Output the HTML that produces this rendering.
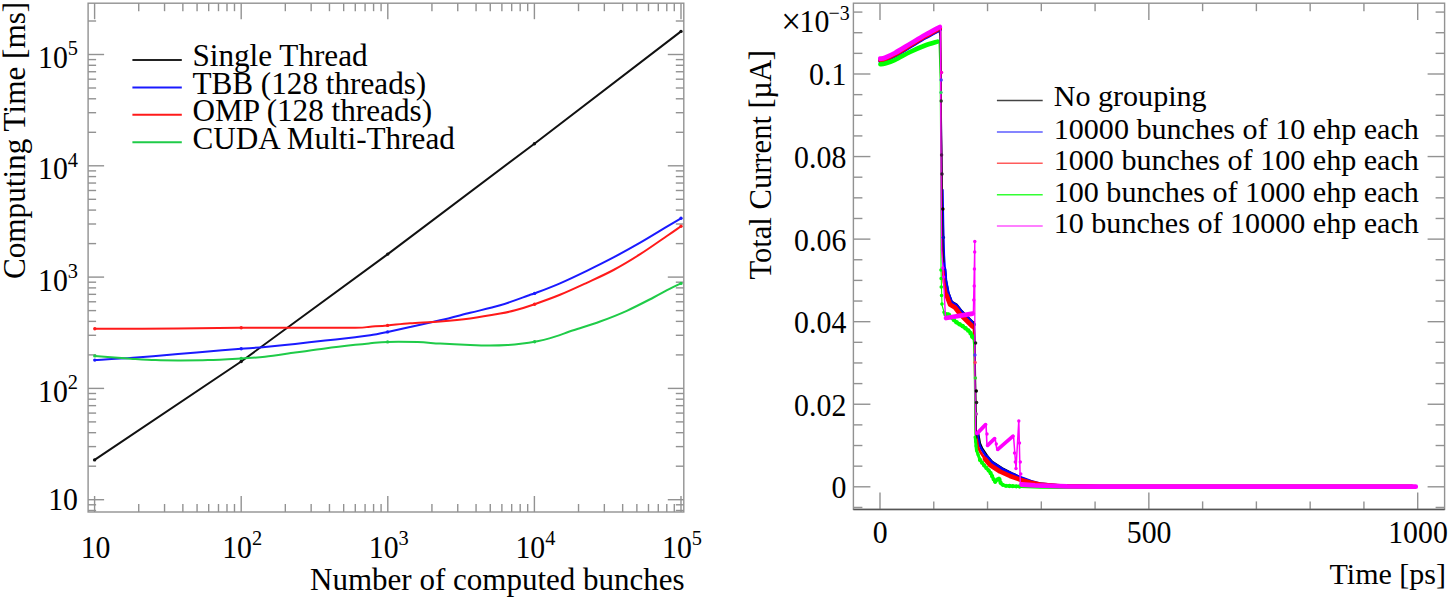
<!DOCTYPE html>
<html lang="en">
<head>
<meta charset="utf-8">
<title>Computing time and total current plots</title>
<style>
html,body{margin:0;padding:0;background:#fff;}
body{width:1450px;height:599px;overflow:hidden;}
svg{display:block;}
text{font-family:"Liberation Serif", "DejaVu Serif", serif;fill:#000;}
</style>
</head>
<body>
<svg width="1450" height="599" viewBox="0 0 1450 599">
<rect x="0" y="0" width="1450" height="599" fill="#fff"/>
<g id="left-plot">
<line x1="94.60" y1="512.00" x2="94.60" y2="496.00" stroke="#929292" stroke-width="1.4" />
<line x1="94.60" y1="3.20" x2="94.60" y2="19.20" stroke="#929292" stroke-width="1.4" />
<line x1="138.73" y1="512.00" x2="138.73" y2="504.00" stroke="#929292" stroke-width="1.4" />
<line x1="138.73" y1="3.20" x2="138.73" y2="11.20" stroke="#929292" stroke-width="1.4" />
<line x1="164.55" y1="512.00" x2="164.55" y2="504.00" stroke="#929292" stroke-width="1.4" />
<line x1="164.55" y1="3.20" x2="164.55" y2="11.20" stroke="#929292" stroke-width="1.4" />
<line x1="182.86" y1="512.00" x2="182.86" y2="504.00" stroke="#929292" stroke-width="1.4" />
<line x1="182.86" y1="3.20" x2="182.86" y2="11.20" stroke="#929292" stroke-width="1.4" />
<line x1="197.07" y1="512.00" x2="197.07" y2="504.00" stroke="#929292" stroke-width="1.4" />
<line x1="197.07" y1="3.20" x2="197.07" y2="11.20" stroke="#929292" stroke-width="1.4" />
<line x1="208.68" y1="512.00" x2="208.68" y2="504.00" stroke="#929292" stroke-width="1.4" />
<line x1="208.68" y1="3.20" x2="208.68" y2="11.20" stroke="#929292" stroke-width="1.4" />
<line x1="218.49" y1="512.00" x2="218.49" y2="504.00" stroke="#929292" stroke-width="1.4" />
<line x1="218.49" y1="3.20" x2="218.49" y2="11.20" stroke="#929292" stroke-width="1.4" />
<line x1="226.99" y1="512.00" x2="226.99" y2="504.00" stroke="#929292" stroke-width="1.4" />
<line x1="226.99" y1="3.20" x2="226.99" y2="11.20" stroke="#929292" stroke-width="1.4" />
<line x1="234.49" y1="512.00" x2="234.49" y2="504.00" stroke="#929292" stroke-width="1.4" />
<line x1="234.49" y1="3.20" x2="234.49" y2="11.20" stroke="#929292" stroke-width="1.4" />
<line x1="241.20" y1="512.00" x2="241.20" y2="496.00" stroke="#929292" stroke-width="1.4" />
<line x1="241.20" y1="3.20" x2="241.20" y2="19.20" stroke="#929292" stroke-width="1.4" />
<line x1="285.33" y1="512.00" x2="285.33" y2="504.00" stroke="#929292" stroke-width="1.4" />
<line x1="285.33" y1="3.20" x2="285.33" y2="11.20" stroke="#929292" stroke-width="1.4" />
<line x1="311.15" y1="512.00" x2="311.15" y2="504.00" stroke="#929292" stroke-width="1.4" />
<line x1="311.15" y1="3.20" x2="311.15" y2="11.20" stroke="#929292" stroke-width="1.4" />
<line x1="329.46" y1="512.00" x2="329.46" y2="504.00" stroke="#929292" stroke-width="1.4" />
<line x1="329.46" y1="3.20" x2="329.46" y2="11.20" stroke="#929292" stroke-width="1.4" />
<line x1="343.67" y1="512.00" x2="343.67" y2="504.00" stroke="#929292" stroke-width="1.4" />
<line x1="343.67" y1="3.20" x2="343.67" y2="11.20" stroke="#929292" stroke-width="1.4" />
<line x1="355.28" y1="512.00" x2="355.28" y2="504.00" stroke="#929292" stroke-width="1.4" />
<line x1="355.28" y1="3.20" x2="355.28" y2="11.20" stroke="#929292" stroke-width="1.4" />
<line x1="365.09" y1="512.00" x2="365.09" y2="504.00" stroke="#929292" stroke-width="1.4" />
<line x1="365.09" y1="3.20" x2="365.09" y2="11.20" stroke="#929292" stroke-width="1.4" />
<line x1="373.59" y1="512.00" x2="373.59" y2="504.00" stroke="#929292" stroke-width="1.4" />
<line x1="373.59" y1="3.20" x2="373.59" y2="11.20" stroke="#929292" stroke-width="1.4" />
<line x1="381.09" y1="512.00" x2="381.09" y2="504.00" stroke="#929292" stroke-width="1.4" />
<line x1="381.09" y1="3.20" x2="381.09" y2="11.20" stroke="#929292" stroke-width="1.4" />
<line x1="387.80" y1="512.00" x2="387.80" y2="496.00" stroke="#929292" stroke-width="1.4" />
<line x1="387.80" y1="3.20" x2="387.80" y2="19.20" stroke="#929292" stroke-width="1.4" />
<line x1="431.93" y1="512.00" x2="431.93" y2="504.00" stroke="#929292" stroke-width="1.4" />
<line x1="431.93" y1="3.20" x2="431.93" y2="11.20" stroke="#929292" stroke-width="1.4" />
<line x1="457.75" y1="512.00" x2="457.75" y2="504.00" stroke="#929292" stroke-width="1.4" />
<line x1="457.75" y1="3.20" x2="457.75" y2="11.20" stroke="#929292" stroke-width="1.4" />
<line x1="476.06" y1="512.00" x2="476.06" y2="504.00" stroke="#929292" stroke-width="1.4" />
<line x1="476.06" y1="3.20" x2="476.06" y2="11.20" stroke="#929292" stroke-width="1.4" />
<line x1="490.27" y1="512.00" x2="490.27" y2="504.00" stroke="#929292" stroke-width="1.4" />
<line x1="490.27" y1="3.20" x2="490.27" y2="11.20" stroke="#929292" stroke-width="1.4" />
<line x1="501.88" y1="512.00" x2="501.88" y2="504.00" stroke="#929292" stroke-width="1.4" />
<line x1="501.88" y1="3.20" x2="501.88" y2="11.20" stroke="#929292" stroke-width="1.4" />
<line x1="511.69" y1="512.00" x2="511.69" y2="504.00" stroke="#929292" stroke-width="1.4" />
<line x1="511.69" y1="3.20" x2="511.69" y2="11.20" stroke="#929292" stroke-width="1.4" />
<line x1="520.19" y1="512.00" x2="520.19" y2="504.00" stroke="#929292" stroke-width="1.4" />
<line x1="520.19" y1="3.20" x2="520.19" y2="11.20" stroke="#929292" stroke-width="1.4" />
<line x1="527.69" y1="512.00" x2="527.69" y2="504.00" stroke="#929292" stroke-width="1.4" />
<line x1="527.69" y1="3.20" x2="527.69" y2="11.20" stroke="#929292" stroke-width="1.4" />
<line x1="534.40" y1="512.00" x2="534.40" y2="496.00" stroke="#929292" stroke-width="1.4" />
<line x1="534.40" y1="3.20" x2="534.40" y2="19.20" stroke="#929292" stroke-width="1.4" />
<line x1="578.53" y1="512.00" x2="578.53" y2="504.00" stroke="#929292" stroke-width="1.4" />
<line x1="578.53" y1="3.20" x2="578.53" y2="11.20" stroke="#929292" stroke-width="1.4" />
<line x1="604.35" y1="512.00" x2="604.35" y2="504.00" stroke="#929292" stroke-width="1.4" />
<line x1="604.35" y1="3.20" x2="604.35" y2="11.20" stroke="#929292" stroke-width="1.4" />
<line x1="622.66" y1="512.00" x2="622.66" y2="504.00" stroke="#929292" stroke-width="1.4" />
<line x1="622.66" y1="3.20" x2="622.66" y2="11.20" stroke="#929292" stroke-width="1.4" />
<line x1="636.87" y1="512.00" x2="636.87" y2="504.00" stroke="#929292" stroke-width="1.4" />
<line x1="636.87" y1="3.20" x2="636.87" y2="11.20" stroke="#929292" stroke-width="1.4" />
<line x1="648.48" y1="512.00" x2="648.48" y2="504.00" stroke="#929292" stroke-width="1.4" />
<line x1="648.48" y1="3.20" x2="648.48" y2="11.20" stroke="#929292" stroke-width="1.4" />
<line x1="658.29" y1="512.00" x2="658.29" y2="504.00" stroke="#929292" stroke-width="1.4" />
<line x1="658.29" y1="3.20" x2="658.29" y2="11.20" stroke="#929292" stroke-width="1.4" />
<line x1="666.79" y1="512.00" x2="666.79" y2="504.00" stroke="#929292" stroke-width="1.4" />
<line x1="666.79" y1="3.20" x2="666.79" y2="11.20" stroke="#929292" stroke-width="1.4" />
<line x1="674.29" y1="512.00" x2="674.29" y2="504.00" stroke="#929292" stroke-width="1.4" />
<line x1="674.29" y1="3.20" x2="674.29" y2="11.20" stroke="#929292" stroke-width="1.4" />
<line x1="681.00" y1="512.00" x2="681.00" y2="496.00" stroke="#929292" stroke-width="1.4" />
<line x1="681.00" y1="3.20" x2="681.00" y2="19.20" stroke="#929292" stroke-width="1.4" />
<line x1="88.10" y1="510.49" x2="96.10" y2="510.49" stroke="#929292" stroke-width="1.4" />
<line x1="683.80" y1="510.49" x2="675.80" y2="510.49" stroke="#929292" stroke-width="1.4" />
<line x1="88.10" y1="504.79" x2="96.10" y2="504.79" stroke="#929292" stroke-width="1.4" />
<line x1="683.80" y1="504.79" x2="675.80" y2="504.79" stroke="#929292" stroke-width="1.4" />
<line x1="88.10" y1="499.70" x2="104.10" y2="499.70" stroke="#929292" stroke-width="1.4" />
<line x1="683.80" y1="499.70" x2="667.80" y2="499.70" stroke="#929292" stroke-width="1.4" />
<line x1="88.10" y1="466.20" x2="96.10" y2="466.20" stroke="#929292" stroke-width="1.4" />
<line x1="683.80" y1="466.20" x2="675.80" y2="466.20" stroke="#929292" stroke-width="1.4" />
<line x1="88.10" y1="446.60" x2="96.10" y2="446.60" stroke="#929292" stroke-width="1.4" />
<line x1="683.80" y1="446.60" x2="675.80" y2="446.60" stroke="#929292" stroke-width="1.4" />
<line x1="88.10" y1="432.69" x2="96.10" y2="432.69" stroke="#929292" stroke-width="1.4" />
<line x1="683.80" y1="432.69" x2="675.80" y2="432.69" stroke="#929292" stroke-width="1.4" />
<line x1="88.10" y1="421.90" x2="96.10" y2="421.90" stroke="#929292" stroke-width="1.4" />
<line x1="683.80" y1="421.90" x2="675.80" y2="421.90" stroke="#929292" stroke-width="1.4" />
<line x1="88.10" y1="413.09" x2="96.10" y2="413.09" stroke="#929292" stroke-width="1.4" />
<line x1="683.80" y1="413.09" x2="675.80" y2="413.09" stroke="#929292" stroke-width="1.4" />
<line x1="88.10" y1="405.64" x2="96.10" y2="405.64" stroke="#929292" stroke-width="1.4" />
<line x1="683.80" y1="405.64" x2="675.80" y2="405.64" stroke="#929292" stroke-width="1.4" />
<line x1="88.10" y1="399.19" x2="96.10" y2="399.19" stroke="#929292" stroke-width="1.4" />
<line x1="683.80" y1="399.19" x2="675.80" y2="399.19" stroke="#929292" stroke-width="1.4" />
<line x1="88.10" y1="393.49" x2="96.10" y2="393.49" stroke="#929292" stroke-width="1.4" />
<line x1="683.80" y1="393.49" x2="675.80" y2="393.49" stroke="#929292" stroke-width="1.4" />
<line x1="88.10" y1="388.40" x2="104.10" y2="388.40" stroke="#929292" stroke-width="1.4" />
<line x1="683.80" y1="388.40" x2="667.80" y2="388.40" stroke="#929292" stroke-width="1.4" />
<line x1="88.10" y1="354.90" x2="96.10" y2="354.90" stroke="#929292" stroke-width="1.4" />
<line x1="683.80" y1="354.90" x2="675.80" y2="354.90" stroke="#929292" stroke-width="1.4" />
<line x1="88.10" y1="335.30" x2="96.10" y2="335.30" stroke="#929292" stroke-width="1.4" />
<line x1="683.80" y1="335.30" x2="675.80" y2="335.30" stroke="#929292" stroke-width="1.4" />
<line x1="88.10" y1="321.39" x2="96.10" y2="321.39" stroke="#929292" stroke-width="1.4" />
<line x1="683.80" y1="321.39" x2="675.80" y2="321.39" stroke="#929292" stroke-width="1.4" />
<line x1="88.10" y1="310.60" x2="96.10" y2="310.60" stroke="#929292" stroke-width="1.4" />
<line x1="683.80" y1="310.60" x2="675.80" y2="310.60" stroke="#929292" stroke-width="1.4" />
<line x1="88.10" y1="301.79" x2="96.10" y2="301.79" stroke="#929292" stroke-width="1.4" />
<line x1="683.80" y1="301.79" x2="675.80" y2="301.79" stroke="#929292" stroke-width="1.4" />
<line x1="88.10" y1="294.34" x2="96.10" y2="294.34" stroke="#929292" stroke-width="1.4" />
<line x1="683.80" y1="294.34" x2="675.80" y2="294.34" stroke="#929292" stroke-width="1.4" />
<line x1="88.10" y1="287.89" x2="96.10" y2="287.89" stroke="#929292" stroke-width="1.4" />
<line x1="683.80" y1="287.89" x2="675.80" y2="287.89" stroke="#929292" stroke-width="1.4" />
<line x1="88.10" y1="282.19" x2="96.10" y2="282.19" stroke="#929292" stroke-width="1.4" />
<line x1="683.80" y1="282.19" x2="675.80" y2="282.19" stroke="#929292" stroke-width="1.4" />
<line x1="88.10" y1="277.10" x2="104.10" y2="277.10" stroke="#929292" stroke-width="1.4" />
<line x1="683.80" y1="277.10" x2="667.80" y2="277.10" stroke="#929292" stroke-width="1.4" />
<line x1="88.10" y1="243.60" x2="96.10" y2="243.60" stroke="#929292" stroke-width="1.4" />
<line x1="683.80" y1="243.60" x2="675.80" y2="243.60" stroke="#929292" stroke-width="1.4" />
<line x1="88.10" y1="224.00" x2="96.10" y2="224.00" stroke="#929292" stroke-width="1.4" />
<line x1="683.80" y1="224.00" x2="675.80" y2="224.00" stroke="#929292" stroke-width="1.4" />
<line x1="88.10" y1="210.09" x2="96.10" y2="210.09" stroke="#929292" stroke-width="1.4" />
<line x1="683.80" y1="210.09" x2="675.80" y2="210.09" stroke="#929292" stroke-width="1.4" />
<line x1="88.10" y1="199.30" x2="96.10" y2="199.30" stroke="#929292" stroke-width="1.4" />
<line x1="683.80" y1="199.30" x2="675.80" y2="199.30" stroke="#929292" stroke-width="1.4" />
<line x1="88.10" y1="190.49" x2="96.10" y2="190.49" stroke="#929292" stroke-width="1.4" />
<line x1="683.80" y1="190.49" x2="675.80" y2="190.49" stroke="#929292" stroke-width="1.4" />
<line x1="88.10" y1="183.04" x2="96.10" y2="183.04" stroke="#929292" stroke-width="1.4" />
<line x1="683.80" y1="183.04" x2="675.80" y2="183.04" stroke="#929292" stroke-width="1.4" />
<line x1="88.10" y1="176.59" x2="96.10" y2="176.59" stroke="#929292" stroke-width="1.4" />
<line x1="683.80" y1="176.59" x2="675.80" y2="176.59" stroke="#929292" stroke-width="1.4" />
<line x1="88.10" y1="170.89" x2="96.10" y2="170.89" stroke="#929292" stroke-width="1.4" />
<line x1="683.80" y1="170.89" x2="675.80" y2="170.89" stroke="#929292" stroke-width="1.4" />
<line x1="88.10" y1="165.80" x2="104.10" y2="165.80" stroke="#929292" stroke-width="1.4" />
<line x1="683.80" y1="165.80" x2="667.80" y2="165.80" stroke="#929292" stroke-width="1.4" />
<line x1="88.10" y1="132.30" x2="96.10" y2="132.30" stroke="#929292" stroke-width="1.4" />
<line x1="683.80" y1="132.30" x2="675.80" y2="132.30" stroke="#929292" stroke-width="1.4" />
<line x1="88.10" y1="112.70" x2="96.10" y2="112.70" stroke="#929292" stroke-width="1.4" />
<line x1="683.80" y1="112.70" x2="675.80" y2="112.70" stroke="#929292" stroke-width="1.4" />
<line x1="88.10" y1="98.79" x2="96.10" y2="98.79" stroke="#929292" stroke-width="1.4" />
<line x1="683.80" y1="98.79" x2="675.80" y2="98.79" stroke="#929292" stroke-width="1.4" />
<line x1="88.10" y1="88.00" x2="96.10" y2="88.00" stroke="#929292" stroke-width="1.4" />
<line x1="683.80" y1="88.00" x2="675.80" y2="88.00" stroke="#929292" stroke-width="1.4" />
<line x1="88.10" y1="79.19" x2="96.10" y2="79.19" stroke="#929292" stroke-width="1.4" />
<line x1="683.80" y1="79.19" x2="675.80" y2="79.19" stroke="#929292" stroke-width="1.4" />
<line x1="88.10" y1="71.74" x2="96.10" y2="71.74" stroke="#929292" stroke-width="1.4" />
<line x1="683.80" y1="71.74" x2="675.80" y2="71.74" stroke="#929292" stroke-width="1.4" />
<line x1="88.10" y1="65.29" x2="96.10" y2="65.29" stroke="#929292" stroke-width="1.4" />
<line x1="683.80" y1="65.29" x2="675.80" y2="65.29" stroke="#929292" stroke-width="1.4" />
<line x1="88.10" y1="59.59" x2="96.10" y2="59.59" stroke="#929292" stroke-width="1.4" />
<line x1="683.80" y1="59.59" x2="675.80" y2="59.59" stroke="#929292" stroke-width="1.4" />
<line x1="88.10" y1="54.50" x2="104.10" y2="54.50" stroke="#929292" stroke-width="1.4" />
<line x1="683.80" y1="54.50" x2="667.80" y2="54.50" stroke="#929292" stroke-width="1.4" />
<line x1="88.10" y1="21.00" x2="96.10" y2="21.00" stroke="#929292" stroke-width="1.4" />
<line x1="683.80" y1="21.00" x2="675.80" y2="21.00" stroke="#929292" stroke-width="1.4" />
<rect x="88.1" y="3.2" width="595.70" height="508.80" fill="none" stroke="#929292" stroke-width="1.4"/>
<path d="M94.60,459.90 L241.20,361.50 L387.80,254.10 L534.40,143.70 L681.00,31.40" fill="none" stroke="#111" stroke-width="2.0" stroke-linejoin="round" stroke-linecap="round"/>
<path d="M94.80,360.10 C101.17,359.72 119.13,358.80 133.00,357.80 C146.87,356.80 165.50,355.17 178.00,354.10 C190.50,353.03 197.47,352.28 208.00,351.40 C218.53,350.52 231.70,349.55 241.20,348.80 C250.70,348.05 256.02,347.72 265.00,346.90 C273.98,346.08 285.08,344.95 295.10,343.90 C305.12,342.85 315.08,341.70 325.10,340.60 C335.12,339.50 347.68,338.18 355.20,337.30 C362.72,336.42 364.80,336.20 370.20,335.30 C375.60,334.40 380.97,333.27 387.60,331.90 C394.23,330.53 401.25,329.03 410.00,327.10 C418.75,325.17 430.08,322.68 440.10,320.30 C450.12,317.92 460.08,315.30 470.10,312.80 C480.12,310.30 490.18,308.30 500.20,305.30 C510.22,302.30 524.47,296.78 530.20,294.80 C535.93,292.82 529.63,295.32 534.60,293.40 C539.57,291.48 551.30,287.07 560.00,283.30 C568.70,279.53 577.88,275.12 586.80,270.80 C595.72,266.48 604.60,262.08 613.50,257.40 C622.40,252.72 631.30,247.82 640.20,242.70 C649.10,237.58 660.10,230.77 666.90,226.70 C673.70,222.63 678.65,219.70 681.00,218.30" fill="none" stroke="#1a1aff" stroke-width="2.0" stroke-linejoin="round" stroke-linecap="round"/>
<path d="M94.80,328.80 C108.67,328.75 153.60,328.67 178.00,328.50 C202.40,328.33 221.68,327.92 241.20,327.80 C260.72,327.68 276.10,327.80 295.10,327.80 C314.10,327.80 342.68,327.98 355.20,327.80 C367.72,327.62 364.80,327.10 370.20,326.70 C375.60,326.30 380.97,325.97 387.60,325.40 C394.23,324.83 401.25,323.97 410.00,323.30 C418.75,322.63 430.08,322.22 440.10,321.40 C450.12,320.58 460.08,319.70 470.10,318.40 C480.12,317.10 492.68,314.95 500.20,313.60 C507.72,312.25 509.47,311.87 515.20,310.30 C520.93,308.73 527.13,306.78 534.60,304.20 C542.07,301.62 551.30,298.37 560.00,294.80 C568.70,291.23 577.88,286.93 586.80,282.80 C595.72,278.67 604.60,274.77 613.50,270.00 C622.40,265.23 631.30,259.87 640.20,254.20 C649.10,248.53 660.10,240.67 666.90,236.00 C673.70,231.33 678.65,227.83 681.00,226.20" fill="none" stroke="#ff1a1a" stroke-width="2.0" stroke-linejoin="round" stroke-linecap="round"/>
<path d="M94.80,355.90 C98.67,356.22 111.63,357.30 118.00,357.80 C124.37,358.30 126.73,358.52 133.00,358.90 C139.27,359.28 148.10,359.85 155.60,360.10 C163.10,360.35 169.27,360.40 178.00,360.40 C186.73,360.40 197.47,360.43 208.00,360.10 C218.53,359.77 231.70,358.95 241.20,358.40 C250.70,357.85 256.02,357.77 265.00,356.80 C273.98,355.83 285.08,354.00 295.10,352.60 C305.12,351.20 315.08,349.70 325.10,348.40 C335.12,347.10 347.68,345.65 355.20,344.80 C362.72,343.95 364.80,343.78 370.20,343.30 C375.60,342.82 379.70,342.10 387.60,341.90 C395.50,341.70 408.85,341.82 417.60,342.10 C426.35,342.38 431.35,343.10 440.10,343.60 C448.85,344.10 461.83,344.77 470.10,345.10 C478.37,345.43 483.43,345.60 489.70,345.60 C495.97,345.60 502.20,345.43 507.70,345.10 C513.20,344.77 518.22,344.17 522.70,343.60 C527.18,343.03 530.15,342.57 534.60,341.70 C539.05,340.83 542.93,340.30 549.40,338.40 C555.87,336.50 564.95,333.12 573.40,330.30 C581.85,327.48 591.20,324.75 600.10,321.50 C609.00,318.25 617.90,314.80 626.80,310.80 C635.70,306.80 646.37,301.15 653.50,297.50 C660.63,293.85 665.02,291.25 669.60,288.90 C674.18,286.55 679.10,284.32 681.00,283.40" fill="none" stroke="#1fcb48" stroke-width="2.0" stroke-linejoin="round" stroke-linecap="round"/>
<circle cx="94.6" cy="459.9" r="1.7" fill="#111"/>
<circle cx="241.2" cy="361.5" r="1.7" fill="#111"/>
<circle cx="387.8" cy="254.1" r="1.7" fill="#111"/>
<circle cx="534.4" cy="143.7" r="1.7" fill="#111"/>
<circle cx="681.0" cy="31.4" r="1.7" fill="#111"/>
<circle cx="94.8" cy="360.1" r="1.7" fill="#1a1aff"/>
<circle cx="241.2" cy="348.8" r="1.7" fill="#1a1aff"/>
<circle cx="387.6" cy="331.9" r="1.7" fill="#1a1aff"/>
<circle cx="534.6" cy="293.4" r="1.7" fill="#1a1aff"/>
<circle cx="681" cy="218.3" r="1.7" fill="#1a1aff"/>
<circle cx="94.8" cy="328.8" r="1.7" fill="#ff1a1a"/>
<circle cx="241.2" cy="327.8" r="1.7" fill="#ff1a1a"/>
<circle cx="387.6" cy="325.4" r="1.7" fill="#ff1a1a"/>
<circle cx="534.6" cy="304.2" r="1.7" fill="#ff1a1a"/>
<circle cx="681" cy="226.2" r="1.7" fill="#ff1a1a"/>
<circle cx="94.8" cy="355.9" r="1.7" fill="#1fcb48"/>
<circle cx="241.2" cy="358.4" r="1.7" fill="#1fcb48"/>
<circle cx="387.6" cy="341.9" r="1.7" fill="#1fcb48"/>
<circle cx="534.6" cy="341.7" r="1.7" fill="#1fcb48"/>
<circle cx="681" cy="283.4" r="1.7" fill="#1fcb48"/>
<text transform="translate(78.00 510.40) scale(0.95 1)" font-size="31.4" text-anchor="end">10</text>
<text transform="translate(78.00 401.90) scale(0.95 1)" font-size="31.4" text-anchor="end">10<tspan font-size="21.5" dy="-12.7">2</tspan></text>
<text transform="translate(78.00 290.60) scale(0.95 1)" font-size="31.4" text-anchor="end">10<tspan font-size="21.5" dy="-12.7">3</tspan></text>
<text transform="translate(78.00 179.30) scale(0.95 1)" font-size="31.4" text-anchor="end">10<tspan font-size="21.5" dy="-12.7">4</tspan></text>
<text transform="translate(78.00 68.00) scale(0.95 1)" font-size="31.4" text-anchor="end">10<tspan font-size="21.5" dy="-12.7">5</tspan></text>
<text transform="translate(95.60 557.50) scale(0.95 1)" font-size="31.4" text-anchor="middle">10</text>
<text transform="translate(242.20 557.50) scale(0.95 1)" font-size="31.4" text-anchor="middle">10<tspan font-size="21.5" dy="-12.7">2</tspan></text>
<text transform="translate(388.80 557.50) scale(0.95 1)" font-size="31.4" text-anchor="middle">10<tspan font-size="21.5" dy="-12.7">3</tspan></text>
<text transform="translate(535.40 557.50) scale(0.95 1)" font-size="31.4" text-anchor="middle">10<tspan font-size="21.5" dy="-12.7">4</tspan></text>
<text transform="translate(682.00 557.50) scale(0.95 1)" font-size="31.4" text-anchor="middle">10<tspan font-size="21.5" dy="-12.7">5</tspan></text>
<text x="684.60" y="589.70" font-size="31" text-anchor="end" >Number of computed bunches</text>
<text font-size="31.2" text-anchor="end" transform="translate(24.5,1.8) rotate(-90)">Computing Time [ms]</text>
<line x1="132.40" y1="60.00" x2="181.80" y2="60.00" stroke="#222" stroke-width="2" />
<text x="192.40" y="66.00" font-size="31.2" text-anchor="start" >Single Thread</text>
<line x1="132.40" y1="87.40" x2="181.80" y2="87.40" stroke="#1a1aff" stroke-width="2" />
<text x="192.40" y="94.00" font-size="31.2" text-anchor="start" >TBB (128 threads)</text>
<line x1="132.40" y1="114.80" x2="181.80" y2="114.80" stroke="#ff1a1a" stroke-width="2" />
<text x="192.40" y="121.40" font-size="31.2" text-anchor="start" >OMP (128 threads)</text>
<line x1="132.40" y1="142.20" x2="181.80" y2="142.20" stroke="#1fcb48" stroke-width="2" />
<text x="192.40" y="148.80" font-size="31.2" text-anchor="start" >CUDA Multi-Thread</text>
</g>
<g id="right-plot">
<line x1="880.00" y1="509.40" x2="880.00" y2="492.60" stroke="#929292" stroke-width="1.4" />
<line x1="880.00" y1="3.20" x2="880.00" y2="20.00" stroke="#929292" stroke-width="1.4" />
<line x1="933.77" y1="509.40" x2="933.77" y2="501.40" stroke="#929292" stroke-width="1.4" />
<line x1="933.77" y1="3.20" x2="933.77" y2="11.20" stroke="#929292" stroke-width="1.4" />
<line x1="987.54" y1="509.40" x2="987.54" y2="501.40" stroke="#929292" stroke-width="1.4" />
<line x1="987.54" y1="3.20" x2="987.54" y2="11.20" stroke="#929292" stroke-width="1.4" />
<line x1="1041.31" y1="509.40" x2="1041.31" y2="501.40" stroke="#929292" stroke-width="1.4" />
<line x1="1041.31" y1="3.20" x2="1041.31" y2="11.20" stroke="#929292" stroke-width="1.4" />
<line x1="1095.08" y1="509.40" x2="1095.08" y2="501.40" stroke="#929292" stroke-width="1.4" />
<line x1="1095.08" y1="3.20" x2="1095.08" y2="11.20" stroke="#929292" stroke-width="1.4" />
<line x1="1148.85" y1="509.40" x2="1148.85" y2="492.60" stroke="#929292" stroke-width="1.4" />
<line x1="1148.85" y1="3.20" x2="1148.85" y2="20.00" stroke="#929292" stroke-width="1.4" />
<line x1="1202.62" y1="509.40" x2="1202.62" y2="501.40" stroke="#929292" stroke-width="1.4" />
<line x1="1202.62" y1="3.20" x2="1202.62" y2="11.20" stroke="#929292" stroke-width="1.4" />
<line x1="1256.39" y1="509.40" x2="1256.39" y2="501.40" stroke="#929292" stroke-width="1.4" />
<line x1="1256.39" y1="3.20" x2="1256.39" y2="11.20" stroke="#929292" stroke-width="1.4" />
<line x1="1310.16" y1="509.40" x2="1310.16" y2="501.40" stroke="#929292" stroke-width="1.4" />
<line x1="1310.16" y1="3.20" x2="1310.16" y2="11.20" stroke="#929292" stroke-width="1.4" />
<line x1="1363.93" y1="509.40" x2="1363.93" y2="501.40" stroke="#929292" stroke-width="1.4" />
<line x1="1363.93" y1="3.20" x2="1363.93" y2="11.20" stroke="#929292" stroke-width="1.4" />
<line x1="1417.70" y1="509.40" x2="1417.70" y2="492.60" stroke="#929292" stroke-width="1.4" />
<line x1="1417.70" y1="3.20" x2="1417.70" y2="20.00" stroke="#929292" stroke-width="1.4" />
<line x1="853.40" y1="507.44" x2="862.40" y2="507.44" stroke="#929292" stroke-width="1.4" />
<line x1="1444.60" y1="507.44" x2="1435.60" y2="507.44" stroke="#929292" stroke-width="1.4" />
<line x1="853.40" y1="486.80" x2="870.40" y2="486.80" stroke="#929292" stroke-width="1.4" />
<line x1="1444.60" y1="486.80" x2="1427.60" y2="486.80" stroke="#929292" stroke-width="1.4" />
<line x1="853.40" y1="466.16" x2="862.40" y2="466.16" stroke="#929292" stroke-width="1.4" />
<line x1="1444.60" y1="466.16" x2="1435.60" y2="466.16" stroke="#929292" stroke-width="1.4" />
<line x1="853.40" y1="445.52" x2="862.40" y2="445.52" stroke="#929292" stroke-width="1.4" />
<line x1="1444.60" y1="445.52" x2="1435.60" y2="445.52" stroke="#929292" stroke-width="1.4" />
<line x1="853.40" y1="424.88" x2="862.40" y2="424.88" stroke="#929292" stroke-width="1.4" />
<line x1="1444.60" y1="424.88" x2="1435.60" y2="424.88" stroke="#929292" stroke-width="1.4" />
<line x1="853.40" y1="404.24" x2="870.40" y2="404.24" stroke="#929292" stroke-width="1.4" />
<line x1="1444.60" y1="404.24" x2="1427.60" y2="404.24" stroke="#929292" stroke-width="1.4" />
<line x1="853.40" y1="383.60" x2="862.40" y2="383.60" stroke="#929292" stroke-width="1.4" />
<line x1="1444.60" y1="383.60" x2="1435.60" y2="383.60" stroke="#929292" stroke-width="1.4" />
<line x1="853.40" y1="362.96" x2="862.40" y2="362.96" stroke="#929292" stroke-width="1.4" />
<line x1="1444.60" y1="362.96" x2="1435.60" y2="362.96" stroke="#929292" stroke-width="1.4" />
<line x1="853.40" y1="342.32" x2="862.40" y2="342.32" stroke="#929292" stroke-width="1.4" />
<line x1="1444.60" y1="342.32" x2="1435.60" y2="342.32" stroke="#929292" stroke-width="1.4" />
<line x1="853.40" y1="321.68" x2="870.40" y2="321.68" stroke="#929292" stroke-width="1.4" />
<line x1="1444.60" y1="321.68" x2="1427.60" y2="321.68" stroke="#929292" stroke-width="1.4" />
<line x1="853.40" y1="301.04" x2="862.40" y2="301.04" stroke="#929292" stroke-width="1.4" />
<line x1="1444.60" y1="301.04" x2="1435.60" y2="301.04" stroke="#929292" stroke-width="1.4" />
<line x1="853.40" y1="280.40" x2="862.40" y2="280.40" stroke="#929292" stroke-width="1.4" />
<line x1="1444.60" y1="280.40" x2="1435.60" y2="280.40" stroke="#929292" stroke-width="1.4" />
<line x1="853.40" y1="259.76" x2="862.40" y2="259.76" stroke="#929292" stroke-width="1.4" />
<line x1="1444.60" y1="259.76" x2="1435.60" y2="259.76" stroke="#929292" stroke-width="1.4" />
<line x1="853.40" y1="239.12" x2="870.40" y2="239.12" stroke="#929292" stroke-width="1.4" />
<line x1="1444.60" y1="239.12" x2="1427.60" y2="239.12" stroke="#929292" stroke-width="1.4" />
<line x1="853.40" y1="218.48" x2="862.40" y2="218.48" stroke="#929292" stroke-width="1.4" />
<line x1="1444.60" y1="218.48" x2="1435.60" y2="218.48" stroke="#929292" stroke-width="1.4" />
<line x1="853.40" y1="197.84" x2="862.40" y2="197.84" stroke="#929292" stroke-width="1.4" />
<line x1="1444.60" y1="197.84" x2="1435.60" y2="197.84" stroke="#929292" stroke-width="1.4" />
<line x1="853.40" y1="177.20" x2="862.40" y2="177.20" stroke="#929292" stroke-width="1.4" />
<line x1="1444.60" y1="177.20" x2="1435.60" y2="177.20" stroke="#929292" stroke-width="1.4" />
<line x1="853.40" y1="156.56" x2="870.40" y2="156.56" stroke="#929292" stroke-width="1.4" />
<line x1="1444.60" y1="156.56" x2="1427.60" y2="156.56" stroke="#929292" stroke-width="1.4" />
<line x1="853.40" y1="135.92" x2="862.40" y2="135.92" stroke="#929292" stroke-width="1.4" />
<line x1="1444.60" y1="135.92" x2="1435.60" y2="135.92" stroke="#929292" stroke-width="1.4" />
<line x1="853.40" y1="115.28" x2="862.40" y2="115.28" stroke="#929292" stroke-width="1.4" />
<line x1="1444.60" y1="115.28" x2="1435.60" y2="115.28" stroke="#929292" stroke-width="1.4" />
<line x1="853.40" y1="94.64" x2="862.40" y2="94.64" stroke="#929292" stroke-width="1.4" />
<line x1="1444.60" y1="94.64" x2="1435.60" y2="94.64" stroke="#929292" stroke-width="1.4" />
<line x1="853.40" y1="74.00" x2="870.40" y2="74.00" stroke="#929292" stroke-width="1.4" />
<line x1="1444.60" y1="74.00" x2="1427.60" y2="74.00" stroke="#929292" stroke-width="1.4" />
<line x1="853.40" y1="53.36" x2="862.40" y2="53.36" stroke="#929292" stroke-width="1.4" />
<line x1="1444.60" y1="53.36" x2="1435.60" y2="53.36" stroke="#929292" stroke-width="1.4" />
<line x1="853.40" y1="32.72" x2="862.40" y2="32.72" stroke="#929292" stroke-width="1.4" />
<line x1="1444.60" y1="32.72" x2="1435.60" y2="32.72" stroke="#929292" stroke-width="1.4" />
<line x1="853.40" y1="12.08" x2="862.40" y2="12.08" stroke="#929292" stroke-width="1.4" />
<line x1="1444.60" y1="12.08" x2="1435.60" y2="12.08" stroke="#929292" stroke-width="1.4" />
<rect x="853.4" y="3.2" width="591.20" height="506.20" fill="none" stroke="#929292" stroke-width="1.4"/>
<line x1="853.40" y1="509.40" x2="1444.60" y2="509.40" stroke="#555" stroke-width="1.5" />
<path d="M880.40,61.70 C881.17,61.53 882.57,61.65 885.00,60.70 C887.43,59.75 890.83,58.28 895.00,56.00 C899.17,53.72 905.00,50.00 910.00,47.00 C915.00,44.00 920.03,40.83 925.00,38.00 C929.97,35.17 937.33,31.33 939.80,30.00" fill="none" stroke="#000" stroke-width="2.5" stroke-linejoin="round" stroke-linecap="round"/>
<path d="M939.30,31.00 L940.20,36.00 L940.80,80.00 L941.40,140.00 L942.10,200.00 L943.00,250.00 L943.80,262.00" fill="none" stroke="#000" stroke-width="1.6" stroke-linejoin="round" stroke-linecap="round"/>
<path d="M945.18,267.94 L945.98,278.94 L948.48,291.94 L951.98,301.44 L956.98,304.44 L961.98,310.94 L971.98,320.94 L974.58,323.44" fill="none" stroke="#000" stroke-width="1.6" stroke-linejoin="round" stroke-linecap="round"/>
<path d="M974.00,322.00 L974.60,340.00 L976.00,434.00 L976.60,438.00" fill="none" stroke="#000" stroke-width="1.6" stroke-linejoin="round" stroke-linecap="round"/>
<path d="M978.51,433.43 L980.31,443.43 L982.31,447.93 L987.31,455.43 L992.31,461.43 L1002.31,467.93 L1012.02,472.88 L1021.44,477.37 L1030.87,481.16 L1040.29,484.15 L1060.00,486.30 L1100.00,486.70 L1412.00,486.70" fill="none" stroke="#000" stroke-width="1.6" stroke-linejoin="round" stroke-linecap="round"/>
<path d="M880.40,61.10 C881.17,60.93 882.57,61.05 885.00,60.10 C887.43,59.15 890.83,57.68 895.00,55.40 C899.17,53.12 905.00,49.40 910.00,46.40 C915.00,43.40 920.03,40.23 925.00,37.40 C929.97,34.57 937.33,30.73 939.80,29.40" fill="none" stroke="#0000ff" stroke-width="4.4" stroke-linejoin="round" stroke-linecap="round"/>
<path d="M940.60,30.00 L941.00,80.00 L941.50,140.00 L942.20,200.00 L943.20,252.00" fill="none" stroke="#0000ff" stroke-width="1.4" stroke-linejoin="round" stroke-linecap="round"/>
<path d="M942.40,190.00 L943.00,225.00 L943.80,255.00 L944.60,268.00 L945.40,277.00" fill="none" stroke="#0000ff" stroke-width="2.6" stroke-linejoin="round" stroke-linecap="round"/>
<path d="M944.41,269.13 L945.21,280.13 L947.71,293.13 L951.21,302.63 L956.21,305.63 L961.21,312.13 L971.21,322.13 L973.81,324.63" fill="none" stroke="#0000ff" stroke-width="4" stroke-linejoin="round" stroke-linecap="round"/>
<path d="M973.60,325.00 L974.30,340.00 L975.60,434.00" fill="none" stroke="#0000ff" stroke-width="1.2" stroke-linejoin="round" stroke-linecap="round"/>
<path d="M977.63,434.79 L979.43,444.79 L981.43,449.29 L986.43,456.79" fill="none" stroke="#0000ff" stroke-width="2.4" stroke-linejoin="round" stroke-linecap="round"/>
<path d="M986.43,456.79 L991.43,462.79 L1001.43,469.29 L1011.25,474.07 L1020.89,478.22 L1030.54,481.67 L1040.18,484.32 L1060.00,486.30 L1100.00,486.70 L1412.00,486.70" fill="none" stroke="#0000ff" stroke-width="4" stroke-linejoin="round" stroke-linecap="round"/>
<path d="M880.40,60.00 C881.17,59.83 882.57,59.95 885.00,59.00 C887.43,58.05 890.83,56.58 895.00,54.30 C899.17,52.02 905.00,48.30 910.00,45.30 C915.00,42.30 920.03,39.13 925.00,36.30 C929.97,33.47 937.33,29.63 939.80,28.30" fill="none" stroke="#ff0000" stroke-width="4.6" stroke-linejoin="round" stroke-linecap="round"/>
<path d="M940.70,29.00 L941.00,80.00 L941.50,140.00 L942.00,200.00 L942.50,258.00" fill="none" stroke="#ff0000" stroke-width="1.2" stroke-linejoin="round" stroke-linecap="round"/>
<path d="M943.20,271.00 L944.00,282.00 L946.50,295.00" fill="none" stroke="#ff0000" stroke-width="3.0" stroke-linejoin="round" stroke-linecap="round"/>
<path d="M946.50,295.00 L950.00,304.50 L955.00,307.50 L960.00,314.00 L970.00,324.00 L972.60,326.50" fill="none" stroke="#ff0000" stroke-width="4.6" stroke-linejoin="round" stroke-linecap="round"/>
<path d="M973.00,327.00 L974.00,340.00 L975.40,434.00" fill="none" stroke="#ff0000" stroke-width="1.2" stroke-linejoin="round" stroke-linecap="round"/>
<path d="M976.20,437.00 L978.00,447.00 L980.00,451.50 L985.00,459.00" fill="none" stroke="#ff0000" stroke-width="2.6" stroke-linejoin="round" stroke-linecap="round"/>
<path d="M985.00,459.00 L990.00,465.00 L1000.00,471.50 L1010.00,476.00 L1020.00,479.60 L1030.00,482.50 L1040.00,484.60 L1060.00,486.30 L1100.00,486.70 L1412.00,486.70" fill="none" stroke="#ff0000" stroke-width="4.6" stroke-linejoin="round" stroke-linecap="round"/>
<path d="M880.40,64.20 C881.17,64.10 882.57,64.30 885.00,63.60 C887.43,62.90 890.83,61.93 895.00,60.00 C899.17,58.07 905.00,54.42 910.00,52.00 C915.00,49.58 920.40,47.23 925.00,45.50 C929.60,43.77 935.50,42.25 937.60,41.60" fill="none" stroke="#00ff00" stroke-width="4.6" stroke-linejoin="round" stroke-linecap="round"/>
<path d="M939.00,42.00 L940.20,80.00 L940.60,140.00 L940.90,200.00 L941.00,270.00 L942.00,305.00 L944.50,314.00" fill="none" stroke="#00ff00" stroke-width="1.1" stroke-linejoin="round" stroke-linecap="round"/>
<path d="M941.00,270.00 L941.30,290.00 L942.00,305.00 L944.50,314.00" fill="none" stroke="#00ff00" stroke-width="3.6" stroke-linecap="round" stroke-linejoin="round" stroke-dasharray="0 8.5"/>
<path d="M945.50,314.20 L948.00,314.00 L952.00,318.00 L956.00,322.00 L964.00,327.00 L970.00,332.00 L973.00,338.00" fill="none" stroke="#00ff00" stroke-width="3.4" stroke-linejoin="round" stroke-linecap="round"/>
<path d="M945.50,314.20 L948.00,314.00 L952.00,318.00 L956.00,322.00 L964.00,327.00 L970.00,332.00 L973.00,338.00" fill="none" stroke="#00ff00" stroke-width="4.6" stroke-linecap="round" stroke-linejoin="round" stroke-dasharray="0 3.6"/>
<path d="M973.00,338.00 L974.00,350.00 L975.00,435.00" fill="none" stroke="#00ff00" stroke-width="1.1" stroke-linejoin="round" stroke-linecap="round"/>
<path d="M975.20,437.00 L976.40,450.00 L980.00,460.00 L985.00,466.50 L990.00,472.00 L995.00,482.00 L999.00,478.00 L1001.00,484.00 L1005.00,485.80 L1020.00,486.50 L1040.00,487.30 L1060.00,487.40 L1100.00,486.90 L1412.00,486.70" fill="none" stroke="#00ff00" stroke-width="3.0" stroke-linejoin="round" stroke-linecap="round"/>
<path d="M980.00,460.00 L985.00,466.50 L990.00,472.00 L995.00,482.00 L999.00,478.00 L1001.00,484.00 L1005.00,485.80 L1020.00,486.50" fill="none" stroke="#00ff00" stroke-width="4.3" stroke-linecap="round" stroke-linejoin="round" stroke-dasharray="0 3.4"/>
<path d="M975.20,437.00 L976.40,450.00 L980.00,460.00" fill="none" stroke="#00ff00" stroke-width="3.2" stroke-linecap="round" stroke-linejoin="round" stroke-dasharray="0 4.5"/>
<path d="M939.30,31.00 L940.20,36.00 L940.80,80.00 L941.40,140.00 L942.10,200.00 L943.00,250.00 L943.80,262.00" fill="none" stroke="#222" stroke-width="1.3" stroke-linejoin="round" stroke-linecap="round"/>
<path d="M974.30,322.00 L974.90,340.00 L976.30,434.00 L976.90,438.00" fill="none" stroke="#222" stroke-width="1.4" stroke-linejoin="round" stroke-linecap="round"/>
<path d="M880.40,58.70 C881.17,58.53 882.57,58.65 885.00,57.70 C887.43,56.75 890.83,55.28 895.00,53.00 C899.17,50.72 905.00,47.00 910.00,44.00 C915.00,41.00 920.03,37.83 925.00,35.00 C929.97,32.17 937.33,28.33 939.80,27.00" fill="none" stroke="#ff00ff" stroke-width="4.8" stroke-linejoin="round" stroke-linecap="round"/>
<path d="M940.40,27.00 L940.70,80.00 L940.90,140.00 L941.20,200.00 L941.60,250.00 L943.00,268.00 L945.50,318.00" fill="none" stroke="#ff00ff" stroke-width="1.4" stroke-linejoin="round" stroke-linecap="round"/>
<path d="M946.20,318.00 L972.60,313.60" fill="none" stroke="#ff00ff" stroke-width="4.8" stroke-linejoin="round" stroke-linecap="round"/>
<path d="M973.30,313.50 L974.80,241.00 L974.80,300.00 L974.90,380.00 L975.70,434.00" fill="none" stroke="#ff00ff" stroke-width="1.3" stroke-linejoin="round" stroke-linecap="round"/>
<path d="M977.20,433.40 L985.60,424.60" fill="none" stroke="#ff00ff" stroke-width="3.7" stroke-linejoin="round" stroke-linecap="round"/>
<path d="M986.00,424.00 L987.00,446.00" fill="none" stroke="#ff00ff" stroke-width="1.6" stroke-linejoin="round" stroke-linecap="round"/>
<path d="M987.60,445.40 L994.60,438.60" fill="none" stroke="#ff00ff" stroke-width="3.7" stroke-linejoin="round" stroke-linecap="round"/>
<path d="M995.00,438.00 L997.00,450.00" fill="none" stroke="#ff00ff" stroke-width="1.6" stroke-linejoin="round" stroke-linecap="round"/>
<path d="M997.80,449.40 L1013.00,436.20" fill="none" stroke="#ff00ff" stroke-width="3.7" stroke-linejoin="round" stroke-linecap="round"/>
<path d="M1013.50,435.50 L1016.00,469.00 L1018.80,420.50 L1020.30,484.00" fill="none" stroke="#ff00ff" stroke-width="1.5" stroke-linejoin="round" stroke-linecap="round"/>
<path d="M1021.60,484.50 L1035.00,485.30 L1067.00,486.40 L1100.00,486.70 L1415.70,486.70" fill="none" stroke="#ff00ff" stroke-width="4.8" stroke-linejoin="round" stroke-linecap="round"/>
<circle cx="941.2" cy="101" r="1.7" fill="#333"/>
<circle cx="941" cy="92.5" r="1.7" fill="#3c6"/>
<circle cx="941.2" cy="80" r="1.7" fill="#53f"/>
<circle cx="941.6" cy="72.5" r="1.7" fill="#f0c"/>
<circle cx="941.6" cy="155" r="1.7" fill="#515"/>
<circle cx="942" cy="174" r="1.7" fill="#313"/>
<circle cx="942.9" cy="209" r="1.7" fill="#000"/>
<circle cx="943.4" cy="237.5" r="1.7" fill="#11b"/>
<circle cx="942.8" cy="268" r="1.7" fill="#ff00ff"/>
<circle cx="943.6" cy="277" r="1.7" fill="#ff00ff"/>
<circle cx="974.8" cy="241.5" r="1.7" fill="#ff00ff"/>
<circle cx="974.7" cy="252" r="1.7" fill="#ff00ff"/>
<circle cx="974.4" cy="269" r="1.7" fill="#ff00ff"/>
<circle cx="974.2" cy="286" r="1.7" fill="#ff00ff"/>
<circle cx="973.8" cy="300" r="1.7" fill="#ff00ff"/>
<circle cx="974.9" cy="355" r="1.7" fill="#53f"/>
<circle cx="975.1" cy="362.5" r="1.7" fill="#f36"/>
<circle cx="975.4" cy="378" r="1.7" fill="#3c3"/>
<circle cx="976.3" cy="391" r="1.7" fill="#000"/>
<circle cx="975.6" cy="343" r="1.7" fill="#222"/>
<circle cx="976.6" cy="402.5" r="1.7" fill="#222"/>
<circle cx="976.4" cy="414" r="1.7" fill="#b4b"/>
<circle cx="1018.8" cy="421" r="1.7" fill="#ff00ff"/>
<circle cx="1019.5" cy="443" r="1.7" fill="#ff00ff"/>
<circle cx="1020.3" cy="462" r="1.7" fill="#ff00ff"/>
<circle cx="1020.8" cy="474" r="1.7" fill="#ff00ff"/>
<circle cx="1014.5" cy="453" r="1.7" fill="#ff00ff"/>
<circle cx="1015.3" cy="462" r="1.7" fill="#ff00ff"/>
<circle cx="1016" cy="468.5" r="1.7" fill="#ff00ff"/>
<circle cx="987" cy="434" r="1.7" fill="#ff00ff"/>
<circle cx="996.3" cy="444" r="1.7" fill="#ff00ff"/>
<text transform="translate(846.30 498.20) scale(0.95 1)" font-size="31.4" text-anchor="end">0</text>
<text transform="translate(846.30 415.64) scale(0.95 1)" font-size="31.4" text-anchor="end">0.02</text>
<text transform="translate(846.30 333.08) scale(0.95 1)" font-size="31.4" text-anchor="end">0.04</text>
<text transform="translate(846.30 250.52) scale(0.95 1)" font-size="31.4" text-anchor="end">0.06</text>
<text transform="translate(846.30 167.96) scale(0.95 1)" font-size="31.4" text-anchor="end">0.08</text>
<text transform="translate(846.30 85.40) scale(0.95 1)" font-size="31.4" text-anchor="end">0.1</text>
<text transform="translate(880.30 542.50) scale(0.95 1)" font-size="31.4" text-anchor="middle">0</text>
<text transform="translate(1149.15 542.50) scale(0.95 1)" font-size="31.4" text-anchor="middle">500</text>
<text transform="translate(1418.00 542.50) scale(0.95 1)" font-size="31.4" text-anchor="middle">1000</text>
<text transform="translate(781.20 32.00) scale(0.95 1)" font-size="31.4" text-anchor="start"><tspan font-size="37" dy="1.8">×</tspan><tspan dy="-1.8" dx="-1.5">10</tspan><tspan font-size="21" dy="-12.5" dx="-1">−3</tspan></text>
<text x="1446.00" y="584.40" font-size="30" text-anchor="end" >Time [ps]</text>
<text font-size="30.6" text-anchor="start" transform="translate(771.3,279.6) rotate(-90)">Total Current <tspan letter-spacing="-0.6">[µA]</tspan></text>
<line x1="996.90" y1="100.50" x2="1042.70" y2="100.50" stroke="#444" stroke-width="1.5" />
<text x="1053.70" y="106.10" font-size="30.1" text-anchor="start" >No grouping</text>
<line x1="996.90" y1="131.90" x2="1042.70" y2="131.90" stroke="#5c5cff" stroke-width="1.5" />
<text x="1053.70" y="138.80" font-size="30.1" text-anchor="start" >10000 bunches of 10 ehp each</text>
<line x1="996.90" y1="163.30" x2="1042.70" y2="163.30" stroke="#ff5c5c" stroke-width="1.5" />
<text x="1053.70" y="170.20" font-size="30.1" text-anchor="start" >1000 bunches of 100 ehp each</text>
<line x1="996.90" y1="194.70" x2="1042.70" y2="194.70" stroke="#33ff33" stroke-width="1.5" />
<text x="1053.70" y="201.60" font-size="30.1" text-anchor="start" >100 bunches of 1000 ehp each</text>
<line x1="996.90" y1="226.10" x2="1042.70" y2="226.10" stroke="#ff55ff" stroke-width="1.5" />
<text x="1053.70" y="233.00" font-size="30.1" text-anchor="start" >10 bunches of 10000 ehp each</text>
</g>
</svg>
</body>
</html>
